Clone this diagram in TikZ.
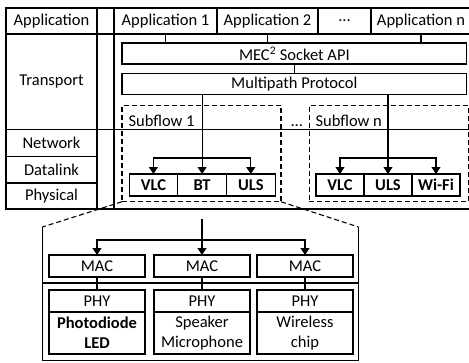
\documentclass[tikz,border=0pt]{standalone}
\usepackage{fontspec}
\setmainfont{Carlito}
\usetikzlibrary{arrows.meta}
\tikzset{
  cell/.style={draw, inner sep=0pt, outer sep=0pt, minimum width=#1},
  proto/.style={draw, inner sep=0pt, outer sep=0pt, minimum width=48.7pt, minimum height=22pt, font=\fontsize{16.5}{20}\selectfont\bfseries},
  unit/.style={draw, inner sep=0pt, outer sep=0pt, minimum width=96pt, align=center},
  subflow/.style={draw, dash pattern=on 5pt off 3pt, inner sep=0pt, outer sep=0pt, minimum width=159pt, minimum height=96.5pt},
  zoomline/.style={dash pattern=on 5pt off 3pt},
  lbl/.style={inner sep=0pt, anchor=base west}
}
\begin{document}
\begin{tikzpicture}[x=1pt, y=-1pt, line width=1.1pt,
    every node/.style={font=\fontsize{16.5}{20}\selectfont},
    >={Triangle[length=7pt,width=9pt]}]
        \useasboundingbox (0,0) rectangle (469,362);
        % layers
        \node[cell=91pt, minimum height=26pt] (lapp) at (51.5,21) {Application};
        \node[cell=91pt, minimum height=95.5pt] (ltra) at (51.5,81.75) {Transport};
        \node[cell=91pt, minimum height=27pt] (lnet) at (51.5,143) {Network};
        \node[cell=91pt, minimum height=26.5pt] (ldat) at (51.5,169.75) {Datalink};
        \node[cell=91pt, minimum height=26pt] (lphy) at (51.5,196) {Physical};
        % frame
        \draw (lapp.north east) rectangle (471,209);
        \draw (114,8) -- (114,209);
        \draw (lapp.south east) -- (471,34);
        \draw (ltra.south east) -- (471,129.5);
        % applications
        \node[cell=103pt, minimum height=26pt] (app1) at (165.5,21) {Application 1};
        \node[cell=101pt, minimum height=26pt] (app2) at (267.5,21) {Application 2};
        \node[cell=53pt, minimum height=26pt] (appd) at (344.5,21) {...};
        \node[cell=100pt, minimum height=26pt] (appn) at (421,21) {Application n};
        % transport
        \node[cell=344.7pt, minimum height=21pt] (mec) at (294.35,53.5) {MEC\textsuperscript{2} Socket API};
        \node[cell=344.7pt, minimum height=21pt] (mp) at (294.35,84) {Multipath Protocol};
        \node[subflow] (sub1) at (201.5,153.5) {};
        \node[subflow] (subn) at (388.6,153.5) {};
        \node[lbl] (sub1lbl) at (128,126.5) {Subflow 1};
        \node[lbl] (sublbld) at (290,126.5) {...};
        \node[lbl] (subnlbl) at (315,126.5) {Subflow n};
        % links
        \node[proto] (vlc1) at (153.4,185) {VLC};
        \node[proto] (bt1) at (202.1,185) {BT};
        \node[proto] (uls1) at (250.8,185) {ULS};
        \node[proto, minimum width=48pt] (vlcn) at (340,185) {VLC};
        \node[proto, minimum width=48pt] (ulsn) at (388,185) {ULS};
        \node[proto, minimum width=48pt] (wifin) at (436,185) {Wi-Fi};
        % edges
        \draw (app1) -- (app1 |- mec.north);
        \draw (app2) -- (app2 |- mec.north);
        \draw (appn) -- (appn |- mec.north);
        \draw (mec) -- (mp);
        \draw[->] (mp.south -| bt1) -- (bt1);
        \draw[->] (mp.south -| ulsn) -- (ulsn);
        \coordinate (j1) at (202.1,158);
        \coordinate (jn) at (388,158);
        \draw[->] (j1) -| (vlc1);
        \draw[->] (j1) -| (uls1);
        \draw[->] (jn) -| (vlcn);
        \draw[->] (jn) -| (wifin);
        % zoom
        \coordinate (zl) at (42.5,227);
        \coordinate (zr) at (358.5,227);
        \draw[zoomline] (sub1.south west) -- (zl);
        \draw[zoomline] (sub1.south east) -- (zr);
        \draw (zl) -- (42.5,360.5) -- (358.5,360.5) -- (zr);
        \draw (42.5,283) -- (358.5,283);
        % device stacks
        \node[unit, minimum height=22pt] (mac1) at (97,266) {MAC};
        \node[unit, minimum height=22pt] (mac2) at (202,266) {MAC};
        \node[unit, minimum height=22pt] (mac3) at (305,266) {MAC};
        \node[unit, minimum height=22pt] (phy1) at (97,301) {PHY};
        \node[unit, minimum height=22pt] (phy2) at (202,301) {PHY};
        \node[unit, minimum height=22pt] (phy3) at (305,301) {PHY};
        \node[unit, minimum height=42pt, font=\fontsize{16.5}{20}\selectfont\bfseries] (hw1) at (97,333) {Photodiode\\LED};
        \node[unit, minimum height=42pt] (hw2) at (202,333) {Speaker\\Microphone};
        \node[unit, minimum height=42pt] (hw3) at (305,333) {Wireless\\chip};
        \coordinate (zt) at (202,219);
        \coordinate (j2) at (202,240);
        \draw[->] (zt) -- (mac2);
        \draw[->] (j2) -| (mac1);
        \draw[->] (j2) -| (mac3);
        \draw (mac1) -- (phy1);
        \draw (mac2) -- (phy2);
        \draw (mac3) -- (phy3);
      \end{tikzpicture}
\end{document}
